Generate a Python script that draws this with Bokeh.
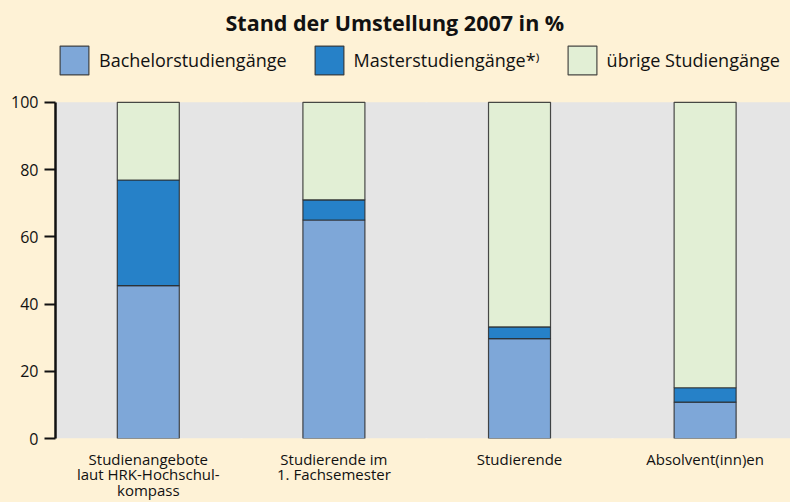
from bokeh.plotting import figure
from bokeh.models import Legend, LegendItem, FixedTicker, Range1d, ColumnDataSource, BoxAnnotation
from bokeh.embed import file_html
from bokeh.resources import INLINE

categories = ["Studienangebote\nlaut HRK-Hochschul-\nkompass", "Studierende im\n1. Fachsemester", "Studierende", "Absolvent(inn)en"]
bachelor = [45.5, 65.0, 29.7, 10.8]
master = [31.4, 6.0, 3.5, 4.3]
uebrige = [23.1, 29.0, 66.8, 84.9]
series_names = ["Bachelorstudiengänge", "Masterstudiengänge*⁾", "übrige Studiengänge"]
y_ticks = [0, 20, 40, 60, 80, 100]

CREAM = "#FEF2D6"
GRAY = "#E5E5E5"
COLORS = ["#7EA7D8", "#2681C8", "#E2EFD5"]
FONT = "Open Sans"

idx = list(range(len(categories)))
src = ColumnDataSource(dict(x=idx, b=bachelor, m=master, u=uebrige))

p = figure(width=790, height=502, output_backend="svg", toolbar_location=None,
           x_range=Range1d(-0.5, len(categories) - 0.54), y_range=Range1d(0, 118.1),
           title="Stand der Umstellung 2007 in %")
p.background_fill_color = CREAM
p.border_fill_color = CREAM
p.outline_line_color = None
p.min_border_left = 55
p.min_border_right = 0
p.min_border_bottom = 64
p.min_border_top = 0

p.title.align = "left"
p.title.offset = 170
p.title.text_font = FONT
p.title.text_font_size = "21.5px"
p.title.text_font_style = "bold"
p.title.text_color = "#111111"

# grey plotting area 0..100
p.add_layout(BoxAnnotation(bottom=0, top=100, fill_color=GRAY, fill_alpha=1, line_color=None, level="underlay"))

p.ygrid.grid_line_color = None
p.xgrid.ticker = FixedTicker(ticks=[0.5, 1.5, 2.5])
p.xgrid.grid_line_color = "white"
p.xgrid.grid_line_width = 2
p.xgrid.cross_bounds = (0, 100)

rs = p.vbar_stack(["b", "m", "u"], x="x", width=0.334, source=src,
                  fill_color=COLORS, line_color="#2a2a2a", line_width=1.2, line_alpha=0.85)

legend = Legend(items=[LegendItem(label=n, renderers=[r]) for n, r in zip(series_names, rs)],
                orientation="horizontal", location=(1, 360))
legend.label_text_font = FONT
legend.label_text_font_size = "18px"
legend.label_text_color = "#111111"
legend.glyph_width = 36
legend.glyph_height = 36
legend.spacing = 24
legend.label_standoff = 7
legend.background_fill_alpha = 0
legend.border_line_color = None
legend.margin = 0
legend.padding = 0
p.add_layout(legend)

p.yaxis.ticker = FixedTicker(ticks=y_ticks)
p.yaxis.bounds = (0, 100)
p.yaxis.axis_line_width = 2.5
p.yaxis.axis_line_color = "#111111"
p.yaxis.major_tick_line_color = "#111111"
p.yaxis.major_tick_line_width = 2
p.yaxis.major_tick_out = 11
p.yaxis.major_tick_in = 0
p.yaxis.minor_tick_line_color = None
p.yaxis.major_label_text_font = FONT
p.yaxis.major_label_text_font_size = "16px"
p.yaxis.major_label_text_color = "#111111"
p.yaxis.major_label_standoff = 6

p.xaxis.ticker = FixedTicker(ticks=idx)
p.xaxis.major_label_overrides = {i: c for i, c in zip(idx, categories)}
p.xaxis.axis_line_color = None
p.xaxis.major_tick_line_color = None
p.xaxis.minor_tick_line_color = None
p.xaxis.major_tick_out = 0
p.xaxis.major_label_text_font = FONT
p.xaxis.major_label_text_font_size = "15px"
p.xaxis.major_label_text_color = "#111111"
p.xaxis.major_label_text_line_height = 0.78
p.xaxis.major_label_standoff = 10

html = file_html(p, INLINE)
html = html.replace("<head>", "<head><style>html,body{margin:0;padding:0;background:%s;}</style>" % CREAM, 1)
open("out.html", "w").write(html)
